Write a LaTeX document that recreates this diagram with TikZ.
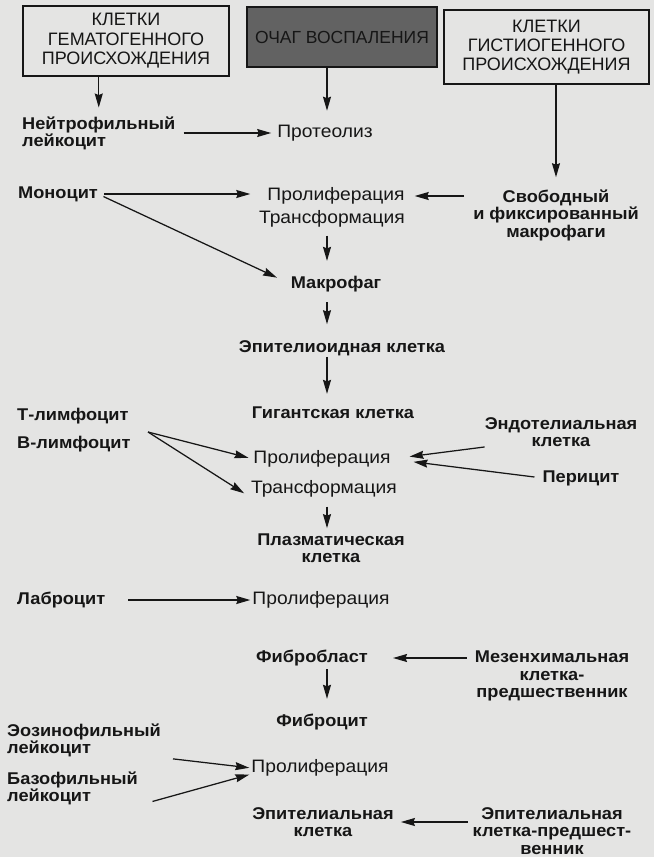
\documentclass[tikz,border=0pt]{standalone}
\usepackage{fontspec}
\setmainfont{Liberation Sans}[FakeStretch=1.07]
\newfontfamily\plainfont{Liberation Sans}
\usetikzlibrary{arrows.meta}
\definecolor{paper}{RGB}{228,228,227}
\definecolor{ink}{RGB}{22,22,22}
\definecolor{focusgray}{RGB}{98,98,98}
\begin{document}
\begin{tikzpicture}[x=1pt, y=-1pt,
    cell/.style={font=\fontsize{17}{17.5}\selectfont\bfseries, text=ink, inner sep=0pt, align=center},
    proc/.style={font=\fontsize{18}{19}\selectfont, text=ink, inner sep=0pt},
    head/.style={draw=ink, line width=1.1pt, inner sep=0pt, align=center, text=ink},
    arr/.style={-{Stealth[length=14pt, width=8pt, inset=1.5pt]}, draw=ink, line width=1.25pt}]
    \fill[paper] (0,0) rectangle (654,857);

    % Three sources at the top
    \node[head, font=\plainfont\fontsize{18}{19.5}\selectfont, minimum width=206pt, minimum height=70pt] (hemat) at (126,41) {КЛЕТКИ\\ГЕМАТОГЕННОГО\\ПРОИСХОЖДЕНИЯ};
    \node[head, fill=focusgray, font=\plainfont\fontsize{17.5}{19}\selectfont, minimum width=190pt, minimum height=60pt] (focus) at (342,37) {ОЧАГ ВОСПАЛЕНИЯ};
    \node[head, font=\plainfont\fontsize{18}{19}\selectfont, minimum width=205pt, minimum height=74pt] (hist) at (546.5,47) {КЛЕТКИ\\ГИСТИОГЕННОГО\\ПРОИСХОЖДЕНИЯ};

    % Cells on the left
    \node[cell, anchor=west, align=left] (neutro) at (22,133.5) {Нейтрофильный\\лейкоцит};
    \node[cell, anchor=west] (mono) at (18,194) {Моноцит};
    \node[cell, anchor=west] (tlymph) at (17,416) {Т-лимфоцит};
    \node[cell, anchor=west] (blymph) at (17,444) {В-лимфоцит};
    \node[cell, anchor=west] (labro) at (17,600) {Лаброцит};
    \node[cell, anchor=west, align=left] (eos) at (7,740.5) {Эозинофильный\\лейкоцит};
    \node[cell, anchor=west, align=left] (baso) at (7,788.5) {Базофильный\\лейкоцит};

    % Processes and cells in the middle
    \node[proc] (proteo) at (325,133) {Протеолиз};
    \node[proc] (prolif1) at (336,196) {Пролиферация};
    \node[proc] (trans1) at (332,219) {Трансформация};
    \node[cell] (makro) at (336,284) {Макрофаг};
    \node[cell] (epith) at (342,348) {Эпителиоидная клетка};
    \node[cell] (gigant) at (333,413) {Гигантская клетка};
    \node[proc] (prolif2) at (322,459) {Пролиферация};
    \node[proc] (trans2) at (324,489) {Трансформация};
    \node[cell] (plasma) at (331,548) {Плазматическая\\клетка};
    \node[proc] (prolif3) at (321,600) {Пролиферация};
    \node[cell] (fibroblast) at (312,658) {Фибробласт};
    \node[cell] (fibrocyte) at (322,722) {Фиброцит};
    \node[proc] (prolif4) at (320,768) {Пролиферация};
    \node[cell] (epith2) at (323,822) {Эпителиальная\\клетка};

    % Cells on the right
    \node[cell] (free) at (556,215) {Свободный\\и фиксированный\\макрофаги};
    \node[cell] (endo) at (561,432) {Эндотелиальная\\клетка};
    \node[cell] (peri) at (581,478) {Перицит};
    \node[cell] (mesench) at (552,676) {Мезенхимальная\\клетка-\\предшественник};
    \node[cell] (epiprec) at (552,831) {Эпителиальная\\клетка-предшест-\\венник};

    \coordinate (axis) at (327,0);
    \coordinate (bfork) at (148,432);

    % From the top boxes
    \draw[arr, shorten >=9pt] (hemat.south -| neutro.north) -- (neutro.north);
    \draw[arr, shorten >=14pt] (focus.south -| axis) -- (proteo.north -| axis);
    \draw[arr, shorten >=12pt] (hist.south -| free.north) -- (free.north);

    % Into the processes
    \draw[arr, shorten <=8pt, shorten >=6pt] (neutro.east |- proteo.west) -- (proteo.west);
    \draw[arr, shorten <=6pt, shorten >=17pt] (mono.east) -- (mono.east -| prolif1.west);
    \draw[arr, shorten <=9pt, shorten >=10pt] (free.west |- prolif1.east) -- (prolif1.east);
    \draw[arr, shorten <=6pt, shorten >=15pt] (mono.east) -- (makro.west);
    \draw[arr, shorten >=5pt] (bfork) -- (prolif2.west);
    \draw[arr, shorten >=8pt] (bfork) -- (trans2.south west);
    \draw[arr, shorten >=19pt] (endo.south west) -- (prolif2.east);
    \draw[arr, shorten <=8pt, shorten >=23pt] (peri.west) -- (prolif2.east);
    \draw[arr, shorten <=23pt, shorten >=2pt] (labro.east) -- (labro.east -| prolif3.west);
    \draw[arr, shorten <=8pt, shorten >=25pt] (mesench.west |- fibroblast.east) -- (fibroblast.east);
    \draw[arr, shorten <=12pt, shorten >=2pt] (eos.south east) -- (prolif4.west);
    \draw[arr, shorten <=15pt, shorten >=2pt] (baso.south east) -- (prolif4.185);
    \draw[arr, shorten <=5pt, shorten >=7pt] (epiprec.west |- epith2.east) -- (epith2.east);

    % Down the middle
    \draw[arr, shorten <=8pt, shorten >=15pt] (trans1.south -| axis) -- (makro.north -| axis);
    \draw[arr, shorten <=10pt, shorten >=16pt] (makro.south -| axis) -- (epith.north -| axis);
    \draw[arr, shorten <=1pt, shorten >=13pt] (epith.south -| axis) -- (gigant.north -| axis);
    \draw[arr, shorten <=9pt, shorten >=5pt] (trans2.south -| axis) -- (plasma.north -| axis);
    \draw[arr, shorten <=3pt, shorten >=15pt] (fibroblast.south -| axis) -- (fibrocyte.north -| axis);
\end{tikzpicture}
\end{document}
